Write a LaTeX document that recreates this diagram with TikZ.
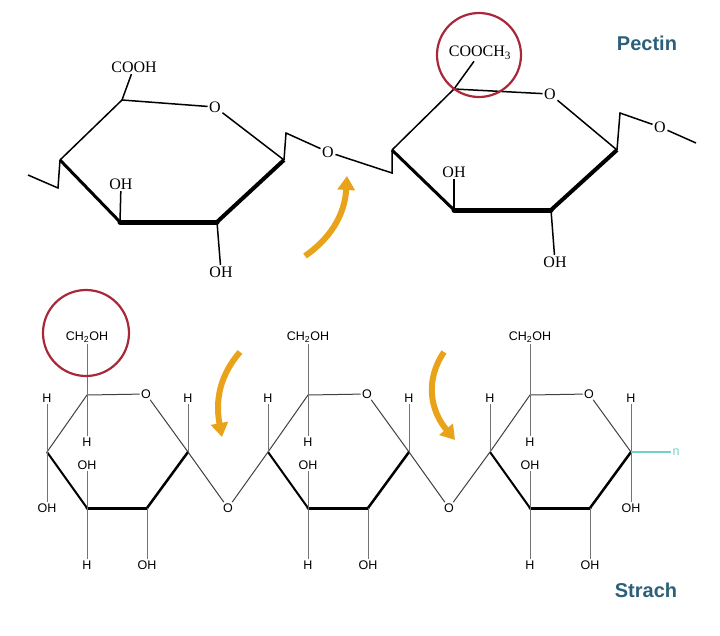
\documentclass[tikz,border=0pt]{standalone}
\usepackage{fontspec}
\setmainfont{Liberation Serif}
\newfontfamily\labfont{Liberation Sans}
\usetikzlibrary{arrows.meta}
\definecolor{ringred}{HTML}{A8283A}
\definecolor{titleblue}{HTML}{2C5F7A}
\definecolor{arroworange}{HTML}{E9A31B}
\definecolor{tailcyan}{HTML}{6FD3C8}
\tikzset{
  atom_/.style   = {inner sep=1.5pt, font=\fontsize{16}{16}\selectfont},
  satom_/.style  = {inner sep=1.2pt, font=\labfont\fontsize{12.5}{12.5}\selectfont},
  title_/.style  = {font=\labfont\bfseries\fontsize{20}{20}\selectfont, text=titleblue},
  bond_/.style   = {draw, line width=1.5pt},
  sbond_/.style  = {draw, line width=1pt, black!75},
  stub_/.style   = {draw, line width=0.9pt, black!55},
  mark_/.style   = {draw=ringred, line width=2.2pt},
  turn_/.style   = {draw=arroworange, line width=6pt,
                    -{Triangle[width=17pt,length=14pt]}}
}

\begin{document}
\begin{tikzpicture}[x=1pt, y=-1pt]
  \useasboundingbox (0,0) rectangle (720,635);

  % pectin, first ring
  \coordinate (p1c4) at (60,160);
  \coordinate (p1c5) at (122,100);
  \coordinate (p1c1) at (284,160);
  \coordinate (p1c2) at (217,222);
  \coordinate (p1c3) at (120,222);
  \node [atom_] (p1o)    at (215,107) {O};
  \node [atom_] (p1cooh) at (134,67)  {COOH};
  \node [atom_] (p1oh3)  at (121,184) {OH};
  \node [atom_] (p1oh2)  at (221,272) {OH};
  \node [atom_] (glyo)   at (328,152) {O};
  \coordinate (p1k) at (286,133);
  \coordinate (p1l) at (58,188);
  \coordinate (p1e) at (28,175);
  \draw [bond_] (p1c5) -- (p1o) -- (p1c1);
  \draw [bond_] (p1c4) -- (p1c5);
  \draw [line width=3pt] (p1c4) -- (p1c3);
  \draw [line width=5pt, line cap=round] (p1c3) -- (p1c2);
  \draw [line width=4pt] (p1c2) -- (p1c1);
  \draw [bond_] (p1c5) -- (p1cooh);
  \draw [bond_] (p1c3) -- (p1oh3);
  \draw [bond_] (p1c2) -- (p1oh2);
  \draw [bond_] (p1c4) -- (p1l) -- (p1e);
  \draw [bond_] (p1c1) -- (p1k) -- (glyo);

  % pectin, second ring
  \coordinate (p2c4) at (392,150);
  \coordinate (p2c5) at (454,89);
  \coordinate (p2c1) at (617,150);
  \coordinate (p2c2) at (551,210);
  \coordinate (p2c3) at (454,210);
  \coordinate (p2l)  at (392,173);
  \node [atom_] (p2o)      at (550,94)  {O};
  \node [atom_] (p2cooch)  at (480,53)  {COOCH\textsubscript{3}};
  \node [atom_] (p2oh3)    at (454,172) {OH};
  \node [atom_] (p2oh2)    at (555,262) {OH};
  \node [atom_] (p2oend)   at (660,127) {O};
  \coordinate (p2k) at (620,113);
  \coordinate (p2e) at (696,143);
  \draw [bond_] (glyo) -- (p2l) -- (p2c4);
  \draw [bond_] (p2c4) -- (p2c5) -- (p2o) -- (p2c1);
  \draw [line width=3pt] (p2c4) -- (p2c3);
  \draw [line width=5pt, line cap=round] (p2c3) -- (p2c2);
  \draw [line width=4pt] (p2c2) -- (p2c1);
  \draw [bond_] (p2c5) -- (p2cooch);
  \draw [bond_] (p2c3) -- (p2oh3);
  \draw [bond_] (p2c2) -- (p2oh2);
  \draw [bond_] (p2c1) -- (p2k) -- (p2oend) -- (p2e);

  \draw [mark_] (479,55) circle (42);
  \node [title_] (pectin) at (647,43) {Pectin};
  \draw [turn_] (305,256) .. controls (335,235) and (345,210) .. (347,176);

  % starch, three rings
  \foreach \i/\dx in {1/0, 2/221, 3/443} {
    \coordinate (s\i-c4) at (47+\dx,452);
    \coordinate (s\i-c5) at (87+\dx,395);
    \coordinate (s\i-c1) at (188+\dx,452);
    \coordinate (s\i-c2) at (147+\dx,508);
    \coordinate (s\i-c3) at (87+\dx,508);
    \node [satom_] (s\i-o)    at (146+\dx,394) {O};
    \node [satom_] (s\i-ch)   at (87+\dx,337)  {CH\textsubscript{2}OH};
    \node [satom_] (s\i-h5)   at (87+\dx,442)  {H};
    \node [satom_] (s\i-h4)   at (47+\dx,398)  {H};
    \node [satom_] (s\i-oh3)  at (87+\dx,465)  {OH};
    \node [satom_] (s\i-h3)   at (87+\dx,565)  {H};
    \node [satom_] (s\i-oh2)  at (147+\dx,565) {OH};
    \node [satom_] (s\i-h1)   at (188+\dx,398) {H};
    \draw [sbond_] (s\i-c4) -- (s\i-c5) -- (s\i-o) -- (s\i-c1);
    \draw [line width=2pt] (s\i-c4) -- (s\i-c3);
    \draw [line width=3pt, line cap=round] (s\i-c3) -- (s\i-c2);
    \draw [line width=2.5pt] (s\i-c2) -- (s\i-c1);
    \draw [stub_] (s\i-c5) -- (s\i-ch);
    \draw [stub_] (s\i-c5) -- (s\i-h5);
    \draw [stub_] (s\i-c4) -- (s\i-h4);
    \draw [stub_] (s\i-c3) -- (s\i-oh3);
    \draw [stub_] (s\i-c3) -- (s\i-h3);
    \draw [stub_] (s\i-c2) -- (s\i-oh2);
    \draw [stub_] (s\i-c1) -- (s\i-h1);
  }
  \node [satom_] (s1oh4) at (47,508)  {OH};
  \node [satom_] (s3oh1) at (631,508) {OH};
  \node [satom_] (s12o)  at (228,508) {O};
  \node [satom_] (s23o)  at (449,508) {O};
  \node [satom_, text=tailcyan] (tailn) at (676,452) {n};
  \draw [stub_] (s1-c4) -- (s1oh4);
  \draw [stub_] (s3-c1) -- (s3oh1);
  \draw [sbond_] (s1-c1) -- (s12o) -- (s2-c4);
  \draw [sbond_] (s2-c1) -- (s23o) -- (s3-c4);
  \draw [draw=tailcyan, line width=1.2pt] (s3-c1) -- (tailn.west);

  \draw [mark_] (86,333) circle (43);
  \node [title_] (strach) at (646,590) {Strach};
  \draw [turn_] (240,352) .. controls (220,375) and (215,400) .. (222,437);
  \draw [turn_] (444,352) .. controls (425,380) and (430,410) .. (455,440);
\end{tikzpicture}
\end{document}
